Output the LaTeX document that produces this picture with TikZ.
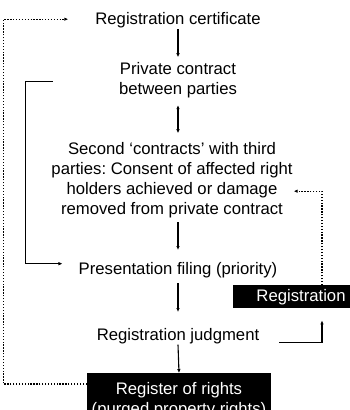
\documentclass[tikz,border=0pt]{standalone}
\usepackage{fontspec}
\setmainfont{Liberation Sans}
\frenchspacing
\usetikzlibrary{arrows.meta}
\begin{document}
\begin{tikzpicture}[x=1pt,y=-1pt,
  lbl/.style={font=\fontsize{16.7}{20}\selectfont, inner sep=1pt, align=center},
  darkbox/.style={lbl, fill=black, text=white},
  link/.style={line width=1.1pt, -{Latex[length=4pt,width=3.6pt]}},
  twolink/.style={line width=1.1pt, {Latex[length=4pt,width=3.6pt]}-{Latex[length=4pt,width=3.6pt]}},
  dotlink/.style={line width=1.1pt, dash pattern=on 1.3pt off 1.6pt, -{Latex[length=3.8pt,width=3.4pt]}},
]
\useasboundingbox (0,0) rectangle (349,410);

% process steps
\node[lbl, anchor=base]  (cert)   at (178,24.5) {Registration certificate};
\node[lbl, anchor=north] (priv)   at (178,61.2) {Private contract\\between parties};
\node[lbl, anchor=north] (second) at (172,141.2) {Second ‘contracts’ with third\\parties: Consent of affected right\hspace*{9pt}\\holders achieved or damage\\removed from private contract};
\node[lbl, anchor=base]  (pres)   at (178,274) {Presentation filing (priority)};
\node[lbl, anchor=base]  (judg)   at (178,340) {Registration judgment};

% dark boxes
\node[darkbox, anchor=base, text height=12.1pt, text depth=3.6pt, inner ysep=3.65pt,
      minimum width=136pt] (reg) at (301,301) {Registration};
\node[darkbox, anchor=north, inner ysep=9.4pt, minimum width=184pt] (rights) at (179,373)
      {Register of rights\\(purged property rights)};

% main flow
\draw[link, shorten >=4pt] (cert.south) -- (priv.north);
\draw[twolink, shorten <=6pt, shorten >=8pt] (priv.south) -- (priv.south |- second.north);
\draw[link, shorten <=3pt, shorten >=10.7pt] (pres.north |- second.south) -- (pres.north);
\draw[link, shorten <=4.4pt, shorten >=14.7pt] (pres.south) -- (judg.north);
\draw[link] (judg.south) -- (rights.north);

% side branches
\draw[link] ([shift={(19,7)}]judg.east) -| ([shift={(21,12)}]reg.south);
\draw[dotlink] ([xshift=21pt]reg.north) |- ([shift={(0,11)}]second.east);
\draw[link] ([shift={(-65,1)}]priv.west) -- ++(-27,0) |- ([shift={(-15,-6)}]pres.west);
\draw[dotlink] ([shift={(0,11)}]rights.north west) -- ++(-83.5,0) |- ([shift={(-26,-1)}]cert.west);
\end{tikzpicture}
\end{document}
